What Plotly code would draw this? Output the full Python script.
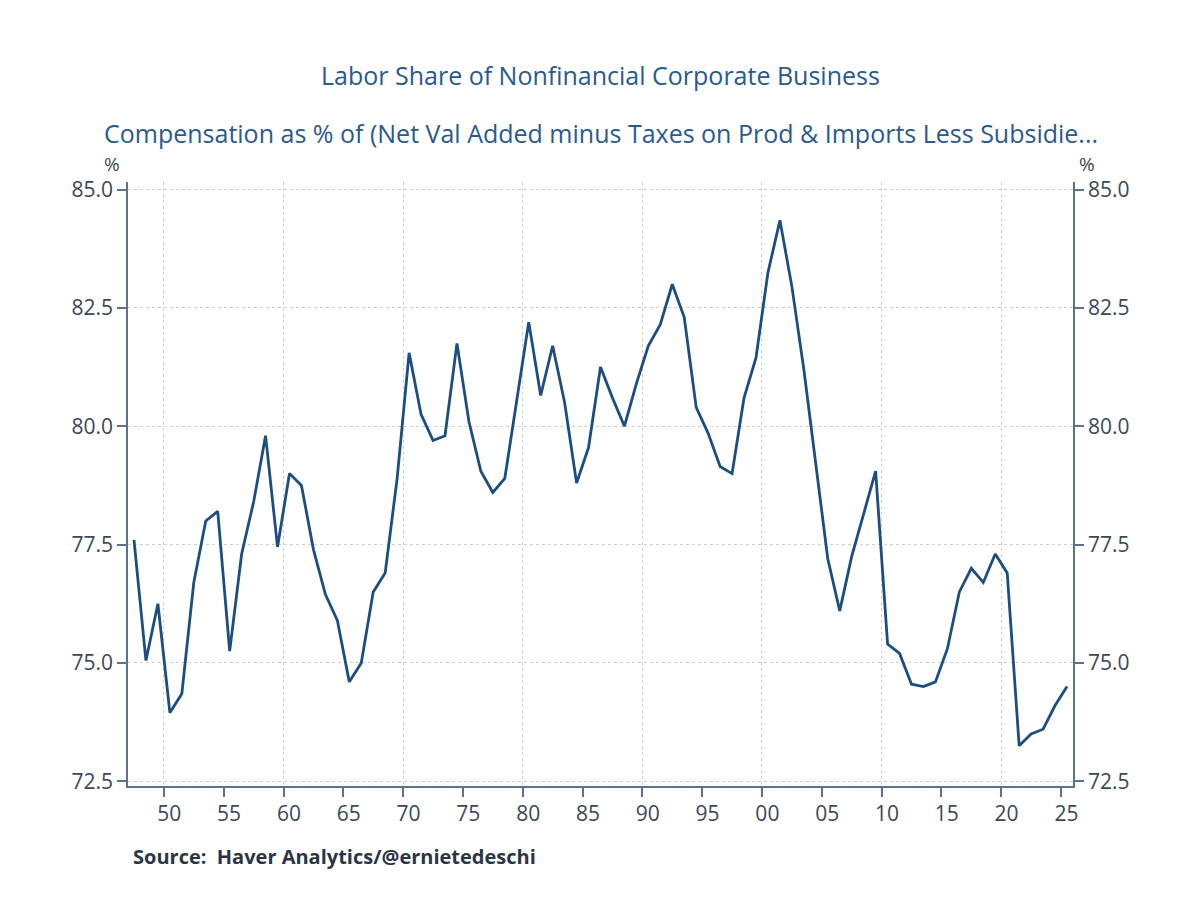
import plotly.graph_objects as go

years = list(range(1947, 2026))
labor_share = [
    77.6, 75.05, 76.25, 73.95, 74.35, 76.7, 78.0, 78.2, 75.25, 77.3,
    78.4, 79.8, 77.45, 79.0, 78.75, 77.4, 76.45, 75.9, 74.6, 75.0,
    76.5, 76.9, 78.9, 81.55, 80.25, 79.7, 79.8, 81.75, 80.1, 79.05,
    78.6, 78.9, 80.55, 82.2, 80.65, 81.7, 80.5, 78.8, 79.55, 81.25,
    80.6, 80.0, 80.9, 81.7, 82.15, 83.0, 82.3, 80.4, 79.85, 79.15,
    79.0, 80.6, 81.45, 83.25, 84.35, 82.95, 81.2, 79.2, 77.2, 76.1,
    77.25, 78.15, 79.05, 75.4, 75.2, 74.55, 74.5, 74.6, 75.3, 76.5,
    77.0, 76.7, 77.3, 76.9, 73.25, 73.5, 73.6, 74.1, 74.5,
]
tick_years = list(range(1950, 2026, 5))
tick_labels = [f"{y % 100:02d}" for y in tick_years]
y_ticks = [72.5, 75.0, 77.5, 80.0, 82.5, 85.0]

title_text = "Labor Share of Nonfinancial Corporate Business"
subtitle_text = "Compensation as % of (Net Val Added minus Taxes on Prod & Imports Less Subsidie..."
source_text = "Source:  Haver Analytics/@ernietedeschi"

LINE = "#1d4e82"
AXIS = "#5b7290"
TICKFONT = dict(family="Open Sans", size=21, color="#3c4858")
UNITFONT = dict(family="Open Sans", size=19, color="#3c4858")
TITLE_COLOR = "#2a5a8e"
GRID = "#cfcfcf"

x_mid = [y + 0.5 for y in years]
x_range = [1947.0, 2026.0]
y_range = [72.4, 85.16]

fig = go.Figure()
fig.add_trace(go.Scatter(
    x=x_mid, y=labor_share, mode="lines",
    line=dict(color=LINE, width=2.8), showlegend=False,
    xaxis="x", yaxis="y",
))
# invisible copy so the overlay axes (right y axis, x labels) render
fig.add_trace(go.Scatter(
    x=x_mid, y=labor_share, mode="lines",
    line=dict(color="rgba(0,0,0,0)", width=0), showlegend=False,
    hoverinfo="skip", xaxis="x2", yaxis="y2",
))

fig.update_layout(
    width=1200, height=900,
    paper_bgcolor="white", plot_bgcolor="white",
    margin=dict(l=128, r=127, t=182, b=114),
    xaxis=dict(
        range=x_range, tickmode="linear", tick0=1950, dtick=10,
        showgrid=True, gridcolor=GRID, griddash="3px,3px", gridwidth=1,
        ticks="outside", ticklen=9, tickcolor=AXIS, tickwidth=1.5,
        showticklabels=False, showline=True, linecolor=AXIS, linewidth=1.5,
        zeroline=False,
        minor=dict(tick0=1950, dtick=5, ticks="outside", ticklen=9,
                   tickcolor=AXIS, tickwidth=1.5, showgrid=False),
    ),
    xaxis2=dict(
        range=x_range, overlaying="x", anchor="y", side="bottom",
        tickmode="array", tickvals=[y + 0.45 for y in tick_years],
        ticktext=tick_labels, ticks="outside", ticklen=9,
        tickcolor="rgba(0,0,0,0)", showgrid=False, showline=False,
        zeroline=False, tickfont=TICKFONT,
    ),
    yaxis=dict(
        range=y_range, tickmode="array", tickvals=y_ticks,
        ticktext=[f"{v:.1f}" for v in y_ticks],
        showgrid=True, gridcolor=GRID, griddash="3px,3px", gridwidth=1,
        ticks="outside", ticklen=9, tickcolor=AXIS, tickwidth=1.5,
        showline=True, linecolor=AXIS, linewidth=1.5, zeroline=False,
        tickfont=TICKFONT,
    ),
    yaxis2=dict(
        range=y_range, overlaying="y", side="right", anchor="x",
        tickmode="array", tickvals=y_ticks,
        ticktext=[f"{v:.1f}" for v in y_ticks],
        showgrid=False, ticks="outside", ticklen=9, tickcolor=AXIS,
        tickwidth=1.5, showline=True, linecolor=AXIS, linewidth=1.5,
        zeroline=False, tickfont=TICKFONT,
    ),
    annotations=[
        dict(text=title_text, xref="paper", yref="paper", x=0.5, y=1.177,
             xanchor="center", yanchor="middle", showarrow=False,
             font=dict(family="Open Sans", size=25, color=TITLE_COLOR)),
        dict(text=subtitle_text, xref="paper", yref="paper", x=0.5, y=1.0811,
             xanchor="center", yanchor="middle", showarrow=False,
             font=dict(family="Open Sans", size=25, color=TITLE_COLOR)),
        dict(text="%", xref="paper", yref="paper", x=-0.017, y=1.0298,
             xanchor="center", yanchor="middle", showarrow=False,
             font=UNITFONT),
        dict(text="%", xref="paper", yref="paper", x=1.0148, y=1.0298,
             xanchor="center", yanchor="middle", showarrow=False,
             font=UNITFONT),
        dict(text="<b>" + source_text + "</b>", xref="paper", yref="paper",
             x=0.003, y=-0.1175, xanchor="left", yanchor="middle",
             showarrow=False,
             font=dict(family="Open Sans", size=20, color="#2b3645")),
    ],
)

fig.write_html("out.html")
